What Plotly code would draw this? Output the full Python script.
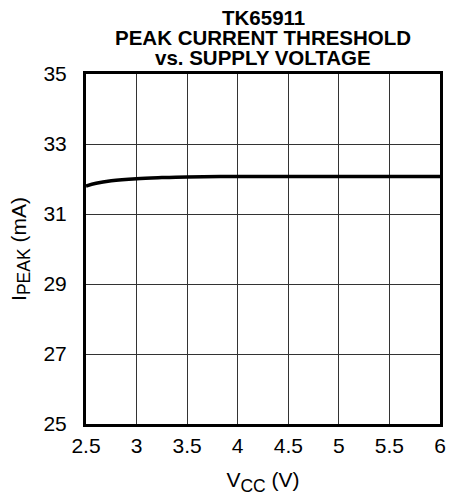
import plotly.graph_objects as go

vcc = [2.5, 2.6, 2.75, 3.0, 3.25, 3.5, 4.0, 4.5, 5.0, 5.5, 6.0]
ipeak = [31.8, 31.88, 31.95, 32.01, 32.04, 32.06, 32.07, 32.07, 32.07, 32.07, 32.07]

title_lines = ["TK65911", "PEAK CURRENT THRESHOLD", "vs. SUPPLY VOLTAGE"]
x_ticks = [2.5, 3, 3.5, 4, 4.5, 5, 5.5, 6]
x_labels = ["2.5", "3", "3.5", "4", "4.5", "5", "5.5", "6"]
y_ticks = [25, 27, 29, 31, 33, 35]

FONT = "Liberation Sans, Arial, sans-serif"

fig = go.Figure()
fig.add_trace(go.Scatter(x=vcc, y=ipeak, mode="lines",
                         line=dict(color="black", width=3.5, shape="spline"),
                         showlegend=False, hoverinfo="skip"))

for i, t in enumerate(title_lines):
    fig.add_annotation(text="<b>%s</b>" % t, xref="paper", yref="paper",
                       x=0.5, y=1, xanchor="center", yanchor="middle",
                       yshift=57 - 20 * i, showarrow=False,
                       font=dict(family=FONT, size=20.5, color="black"))

fig.update_layout(
    width=450, height=498, autosize=False,
    margin=dict(l=86, r=10, t=74, b=74, autoexpand=False),
    paper_bgcolor="white", plot_bgcolor="white",
    font=dict(family=FONT, size=21, color="black"),
    xaxis=dict(range=[2.5, 6], tickvals=x_ticks, ticktext=x_labels,
               showgrid=True, gridcolor="#333333", gridwidth=1,
               showline=True, linecolor="black", linewidth=3, mirror=True,
               ticks="", zeroline=False, ticklabelstandoff=1, automargin=False,
               tickfont=dict(size=21),
               title=dict(text="V<sub><span style='font-size:17.5px'>CC</span></sub> (V)",
                          font=dict(size=21), standoff=17)),
    yaxis=dict(range=[25, 35], tickvals=y_ticks,
               showgrid=True, gridcolor="#333333", gridwidth=1,
               showline=True, linecolor="black", linewidth=3, mirror=True,
               ticks="", zeroline=False, ticklabelstandoff=12, automargin=False,
               tickfont=dict(size=21),
               title=dict(text="I<sub><span style='font-size:17.5px'>PEAK</span></sub> (mA)",
                          font=dict(size=21), standoff=12)),
)

fig.write_html("out.html", config={"displayModeBar": False},
               post_script="document.body.style.margin='0';document.body.style.overflow='hidden';")
